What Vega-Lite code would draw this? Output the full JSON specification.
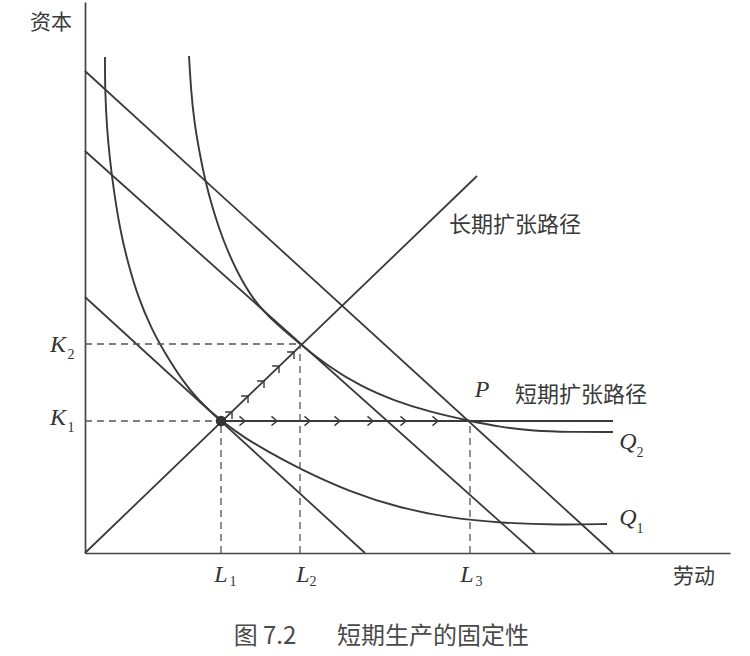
{
  "$schema": "https://vega.github.io/schema/vega-lite/v6.json",
  "width": 645,
  "height": 551,
  "autosize": "none",
  "padding": {"left": 85, "top": 2, "right": 20, "bottom": 103},
  "background": "#ffffff",
  "config": {
    "view": {"stroke": null},
    "axis": {"domainColor": "#444444", "domainWidth": 1.7, "ticks": false, "labels": false, "grid": false, "title": null}
  },
  "datasets": {
    "straight": [
      {"id": "c1", "x": 0, "y": 256}, {"id": "c1", "x": 280, "y": 0},
      {"id": "c2", "x": 0, "y": 402}, {"id": "c2", "x": 450, "y": 0},
      {"id": "c3", "x": 0, "y": 482}, {"id": "c3", "x": 528, "y": 0},
      {"id": "lr", "x": 0, "y": 0}, {"id": "lr", "x": 392, "y": 377},
      {"id": "sr", "x": 136, "y": 132}, {"id": "sr", "x": 528, "y": 132}
    ],
    "curves": [
      {"id": "Q1", "o": 1, "x": 20, "y": 496},
      {"id": "Q1", "o": 2, "x": 20, "y": 463},
      {"id": "Q1", "o": 3, "x": 22, "y": 423},
      {"id": "Q1", "o": 4, "x": 25, "y": 393},
      {"id": "Q1", "o": 5, "x": 28, "y": 368},
      {"id": "Q1", "o": 6, "x": 35, "y": 323},
      {"id": "Q1", "o": 7, "x": 43, "y": 290},
      {"id": "Q1", "o": 8, "x": 53, "y": 256},
      {"id": "Q1", "o": 9, "x": 67, "y": 223},
      {"id": "Q1", "o": 10, "x": 80, "y": 200},
      {"id": "Q1", "o": 11, "x": 97, "y": 173},
      {"id": "Q1", "o": 12, "x": 113, "y": 153},
      {"id": "Q1", "o": 13, "x": 136, "y": 132},
      {"id": "Q1", "o": 14, "x": 160, "y": 115},
      {"id": "Q1", "o": 15, "x": 182, "y": 102},
      {"id": "Q1", "o": 16, "x": 215, "y": 84},
      {"id": "Q1", "o": 17, "x": 265, "y": 61},
      {"id": "Q1", "o": 18, "x": 315, "y": 45},
      {"id": "Q1", "o": 19, "x": 365, "y": 35},
      {"id": "Q1", "o": 20, "x": 415, "y": 30},
      {"id": "Q1", "o": 21, "x": 475, "y": 28},
      {"id": "Q1", "o": 22, "x": 522, "y": 29},
      {"id": "Q2", "o": 1, "x": 104, "y": 497},
      {"id": "Q2", "o": 2, "x": 106, "y": 463},
      {"id": "Q2", "o": 3, "x": 109, "y": 433},
      {"id": "Q2", "o": 4, "x": 114, "y": 403},
      {"id": "Q2", "o": 5, "x": 120, "y": 373},
      {"id": "Q2", "o": 6, "x": 128, "y": 343},
      {"id": "Q2", "o": 7, "x": 138, "y": 313},
      {"id": "Q2", "o": 8, "x": 151, "y": 283},
      {"id": "Q2", "o": 9, "x": 168, "y": 253},
      {"id": "Q2", "o": 10, "x": 190, "y": 230},
      {"id": "Q2", "o": 11, "x": 215, "y": 209},
      {"id": "Q2", "o": 12, "x": 243, "y": 187},
      {"id": "Q2", "o": 13, "x": 275, "y": 167},
      {"id": "Q2", "o": 14, "x": 310, "y": 152},
      {"id": "Q2", "o": 15, "x": 345, "y": 141},
      {"id": "Q2", "o": 16, "x": 385, "y": 132},
      {"id": "Q2", "o": 17, "x": 415, "y": 126},
      {"id": "Q2", "o": 18, "x": 448, "y": 122},
      {"id": "Q2", "o": 19, "x": 485, "y": 121},
      {"id": "Q2", "o": 20, "x": 528, "y": 121}
    ],
    "dashes": [
      {"id": "K2", "x": 0, "y": 209}, {"id": "K2", "x": 215, "y": 209},
      {"id": "K1", "x": 0, "y": 132}, {"id": "K1", "x": 136, "y": 132},
      {"id": "L1", "x": 136, "y": 0}, {"id": "L1", "x": 136, "y": 132},
      {"id": "L2", "x": 215, "y": 0}, {"id": "L2", "x": 215, "y": 209},
      {"id": "L3", "x": 385, "y": 0}, {"id": "L3", "x": 385, "y": 132}
    ],
    "chev": [
      {"x": 160, "y": 132}, {"x": 192, "y": 132}, {"x": 225, "y": 132}, {"x": 255, "y": 132},
      {"x": 288, "y": 132}, {"x": 321, "y": 132}, {"x": 353, "y": 132}
    ],
    "diag": [
      {"x": 147, "y": 141}, {"x": 163, "y": 157}, {"x": 179, "y": 172}, {"x": 194, "y": 187}, {"x": 209, "y": 201}
    ],
    "dot": [{"x": 136, "y": 132}],
    "labels": [
      {"role": "cjk", "t": "长期扩张路径", "x": 430, "y": 328},
      {"role": "cjk", "t": "短期扩张路径", "x": 496, "y": 158},
      {"role": "axis", "t": "资本", "x": -34, "y": 530},
      {"role": "axis", "t": "劳动", "x": 609, "y": -24},
      {"role": "caption", "t": "图 7.2", "x": 180, "y": -84},
      {"role": "caption", "t": "短期生产的固定性", "x": 348, "y": -84},
      {"role": "it", "t": "P", "x": 397, "y": 163},
      {"role": "it", "t": "Q", "x": 543, "y": 111},
      {"role": "it", "t": "Q", "x": 543, "y": 35},
      {"role": "it", "t": "K", "x": -27, "y": 208},
      {"role": "it", "t": "K", "x": -27, "y": 135},
      {"role": "it", "t": "L", "x": 136, "y": -22},
      {"role": "it", "t": "L", "x": 218, "y": -22},
      {"role": "it", "t": "L", "x": 382, "y": -22},
      {"role": "sub", "t": "2", "x": 555, "y": 100},
      {"role": "sub", "t": "1", "x": 555, "y": 24},
      {"role": "sub", "t": "2", "x": -14, "y": 198},
      {"role": "sub", "t": "1", "x": -14, "y": 125},
      {"role": "sub", "t": "1", "x": 148, "y": -29},
      {"role": "sub", "t": "2", "x": 228, "y": -29},
      {"role": "sub", "t": "3", "x": 394, "y": -29}
    ]
  },
  "layer": [
    {
      "data": {"name": "straight"},
      "mark": {"type": "line", "color": "#3a3a3a", "strokeWidth": 1.8},
      "encoding": {
        "x": {"field": "x", "type": "quantitative", "scale": {"domain": [0, 645], "nice": false, "zero": false}, "axis": {"title": null}},
        "y": {"field": "y", "type": "quantitative", "scale": {"domain": [0, 551], "nice": false, "zero": false}, "axis": {"title": null}},
        "detail": {"field": "id"}
      }
    },
    {
      "data": {"name": "curves"},
      "mark": {"type": "line", "color": "#3a3a3a", "strokeWidth": 1.9, "interpolate": "basis"},
      "encoding": {
        "x": {"field": "x", "type": "quantitative"},
        "y": {"field": "y", "type": "quantitative"},
        "detail": {"field": "id"},
        "order": {"field": "o"}
      }
    },
    {
      "data": {"name": "dashes"},
      "mark": {"type": "line", "color": "#555555", "strokeWidth": 1.3, "strokeDash": [7, 5]},
      "encoding": {
        "x": {"field": "x", "type": "quantitative"},
        "y": {"field": "y", "type": "quantitative"},
        "detail": {"field": "id"}
      }
    },
    {
      "data": {"name": "chev"},
      "mark": {"type": "point", "shape": "M-1.2,-1L0,0L-1.2,1", "filled": false, "size": 85, "stroke": "#3a3a3a", "strokeWidth": 1.4, "opacity": 1},
      "encoding": {
        "x": {"field": "x", "type": "quantitative"},
        "y": {"field": "y", "type": "quantitative"}
      }
    },
    {
      "data": {"name": "diag"},
      "mark": {"type": "point", "shape": "M-1,-1L0,0L-1,1", "filled": false, "size": 95, "angle": -45, "stroke": "#3a3a3a", "strokeWidth": 1.4, "opacity": 1},
      "encoding": {
        "x": {"field": "x", "type": "quantitative"},
        "y": {"field": "y", "type": "quantitative"}
      }
    },
    {
      "data": {"name": "dot"},
      "mark": {"type": "point", "shape": "circle", "filled": true, "size": 110, "color": "#333333", "opacity": 1},
      "encoding": {
        "x": {"field": "x", "type": "quantitative"},
        "y": {"field": "y", "type": "quantitative"}
      }
    },
    {
      "data": {"name": "labels"},
      "transform": [{"filter": "datum.role === 'cjk'"}],
      "mark": {"type": "text", "font": "Noto Sans CJK SC", "fontSize": 22, "color": "#3a3a3a", "align": "center", "baseline": "middle"},
      "encoding": {
        "x": {"field": "x", "type": "quantitative"},
        "y": {"field": "y", "type": "quantitative"},
        "text": {"field": "t"}
      }
    },
    {
      "data": {"name": "labels"},
      "transform": [{"filter": "datum.role === 'axis'"}],
      "mark": {"type": "text", "font": "Noto Sans CJK SC", "fontSize": 21, "color": "#3a3a3a", "align": "center", "baseline": "middle"},
      "encoding": {
        "x": {"field": "x", "type": "quantitative"},
        "y": {"field": "y", "type": "quantitative"},
        "text": {"field": "t"}
      }
    },
    {
      "data": {"name": "labels"},
      "transform": [{"filter": "datum.role === 'caption'"}],
      "mark": {"type": "text", "font": "Noto Sans CJK SC", "fontSize": 24, "color": "#4a4a4a", "align": "center", "baseline": "middle"},
      "encoding": {
        "x": {"field": "x", "type": "quantitative"},
        "y": {"field": "y", "type": "quantitative"},
        "text": {"field": "t"}
      }
    },
    {
      "data": {"name": "labels"},
      "transform": [{"filter": "datum.role === 'it'"}],
      "mark": {"type": "text", "font": "Liberation Serif", "fontStyle": "italic", "fontSize": 24, "color": "#333333", "align": "center", "baseline": "middle"},
      "encoding": {
        "x": {"field": "x", "type": "quantitative"},
        "y": {"field": "y", "type": "quantitative"},
        "text": {"field": "t"}
      }
    },
    {
      "data": {"name": "labels"},
      "transform": [{"filter": "datum.role === 'sub'"}],
      "mark": {"type": "text", "font": "Liberation Serif", "fontSize": 14, "color": "#333333", "align": "center", "baseline": "middle"},
      "encoding": {
        "x": {"field": "x", "type": "quantitative"},
        "y": {"field": "y", "type": "quantitative"},
        "text": {"field": "t"}
      }
    }
  ]
}
